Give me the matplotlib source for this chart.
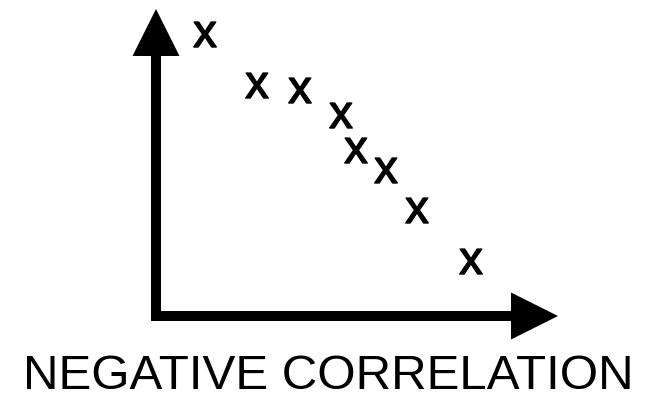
import matplotlib
matplotlib.use("Agg")
import matplotlib.pyplot as plt
import matplotlib.patheffects as pe

# Data (diagram units: right / up from the axis origin)
point_x = [49, 101, 144, 185, 200, 230, 261, 315]
point_y = [269, 218, 213, 188, 153, 133, 93, 42]
point_label = "x"
title = "NEGATIVE CORRELATION"

W, H = 646, 393
fig = plt.figure(figsize=(W / 100, H / 100), dpi=100)
ax = fig.add_axes([0, 0, 1, 1])
ax.set_xlim(-156, W - 156)
ax.set_ylim(316 - H, 316)
ax.axis("off")

font = "Liberation Sans"
lw = 10
hw = 47
hl = 47
# y axis arrow
ax.arrow(0, -4, 0, 307 + 4, width=lw, head_width=hw, head_length=hl,
         length_includes_head=True, color="black", lw=0)
# x axis arrow
ax.arrow(-5, 0, 402 + 5, 0, width=lw, head_width=hw, head_length=hl,
         length_includes_head=True, color="black", lw=0)

for px, py in zip(point_x, point_y):
    ax.text(px, py, point_label, ha="center", va="baseline",
            fontsize=34, family=font, color="black",
            path_effects=[pe.withStroke(linewidth=1.0, foreground="black")])

ax.text(172, -73, title, ha="center", va="baseline", fontsize=35.5,
        family=font, color="black")

fig.savefig("out.png", dpi=100)
